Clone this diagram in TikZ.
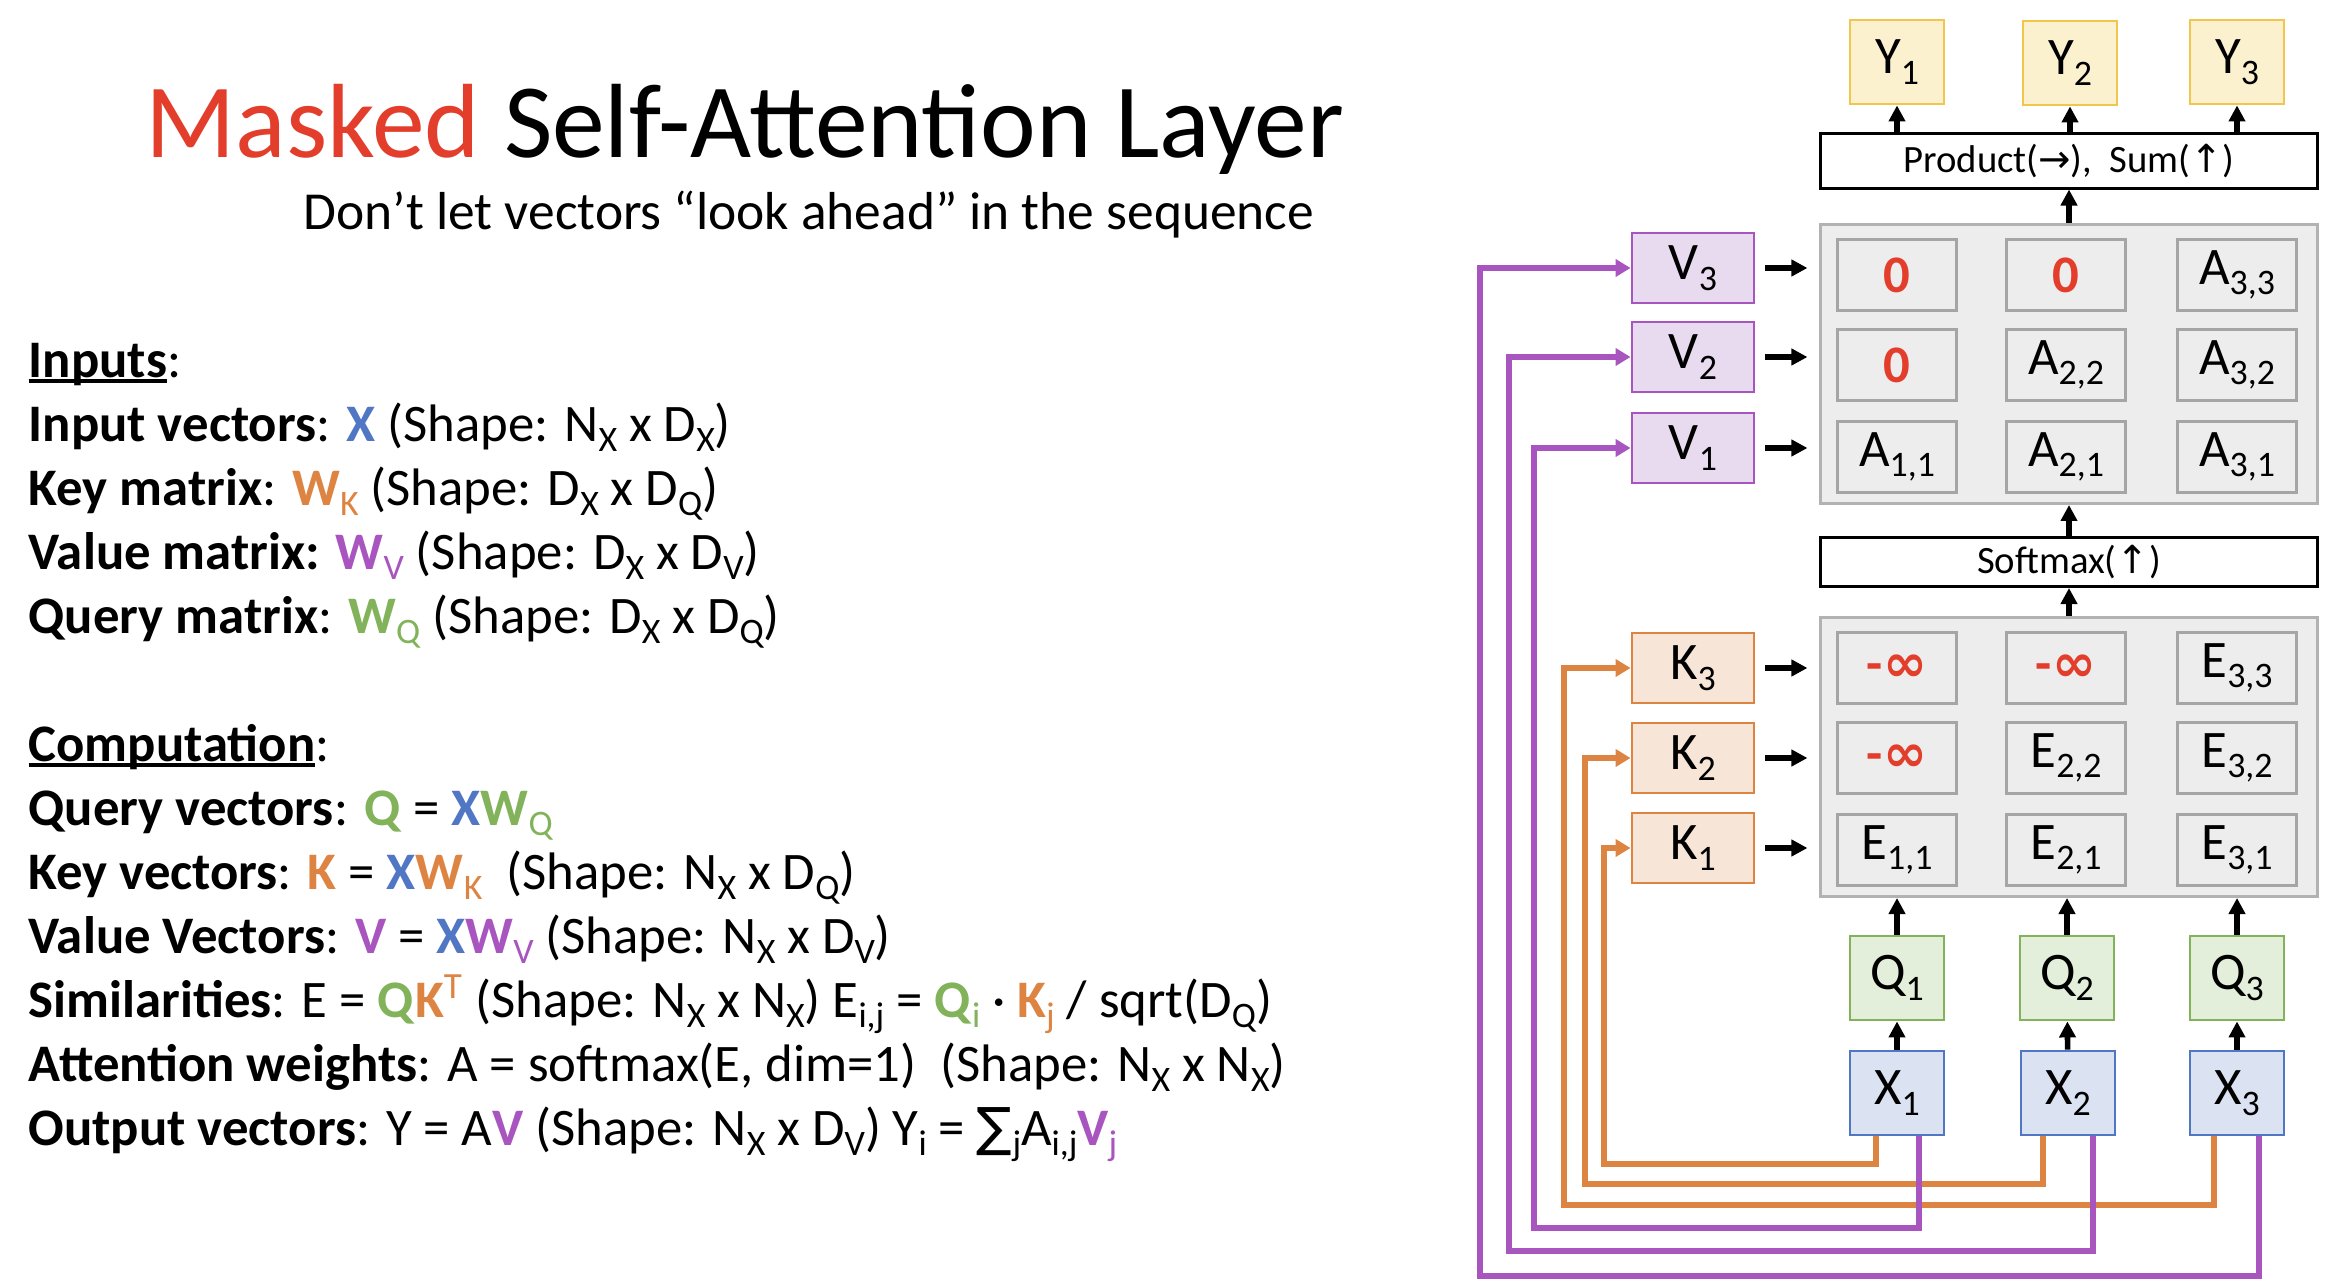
\documentclass[tikz,border=0pt]{standalone}
\usepackage{fontspec}
\setmainfont{Carlito}
\newfontfamily\symfont{DejaVu Sans}
\usetikzlibrary{arrows.meta, positioning, calc}
\definecolor{titlered}{RGB}{227,61,43}
\definecolor{xblue}{RGB}{80,118,196}
\definecolor{xfill}{RGB}{219,227,242}
\definecolor{qgreen}{RGB}{130,178,90}
\definecolor{qfill}{RGB}{227,239,218}
\definecolor{korange}{RGB}{222,132,66}
\definecolor{kfill}{RGB}{247,230,216}
\definecolor{vpurple}{RGB}{168,85,192}
\definecolor{vfill}{RGB}{232,219,240}
\definecolor{ygold}{RGB}{242,197,76}
\definecolor{yfill}{RGB}{251,241,207}
\definecolor{matgray}{RGB}{178,178,178}
\definecolor{matfill}{RGB}{237,237,237}
\definecolor{cellgray}{RGB}{165,165,165}
\newcommand{\sbx}[1]{\raisebox{-0.2em}{\scalebox{0.68}{#1}}}
\newcommand{\undl}[1]{\setbox0\hbox{#1}\rlap{\rule[-0.12em]{\wd0}{0.08em}}\box0}
\newcommand{\ninf}{\textbf{-}{\symfont\bfseries ∞}}
\newcommand{\bodyfont}{\fontsize{15}{18}\selectfont}
\newcommand{\boxfont}{\fontsize{15}{18}\selectfont}

\begin{document}
\begin{tikzpicture}[
    x=0.01cm, y=-0.01cm,
    txt/.style={anchor=base west, inner sep=0pt, font=\bodyfont},
    vec/.style={draw, line width=0.8pt, inner sep=0pt, minimum width=0.94cm, minimum height=0.84cm, font=\boxfont},
    ybox/.style={vec, draw=ygold, fill=yfill},
    qbox/.style={vec, draw=qgreen, fill=qfill},
    xbox/.style={vec, draw=xblue, fill=xfill},
    side/.style={vec, minimum width=1.22cm, minimum height=0.70cm},
    kbox/.style={side, draw=korange, fill=kfill},
    vbox/.style={side, draw=vpurple, fill=vfill},
    mat/.style={draw=matgray, fill=matfill, line width=0.8pt, minimum width=4.96cm, minimum height=2.79cm},
    cell/.style={draw=cellgray, fill=matfill, line width=0.85pt, inner sep=0pt, minimum width=1.19cm, minimum height=0.70cm, font=\boxfont},
    mask/.style={cell, text=titlered, font=\boxfont\bfseries},
    opbox/.style={draw, line width=0.85pt, inner sep=0pt, minimum width=4.96cm, font=\fontsize{11}{13}\selectfont},
    arrow/.style={-{Triangle[length=0.16cm, width=0.16cm]}, line width=1.6pt},
    kline/.style={-{Triangle[length=0.15cm, width=0.17cm]}, line width=1.6pt, korange},
    vline/.style={-{Triangle[length=0.15cm, width=0.17cm]}, line width=1.6pt, vpurple}
]
    \useasboundingbox (0,0) rectangle (2342,1288);

    % title and text
    \node[anchor=base west, inner sep=0pt, font=\fontsize{30}{36}\selectfont] (title) at (145,158) {{\color{titlered}Masked} Self-Attention Layer};
    \node[anchor=base west, inner sep=0pt, font=\fontsize{15.2}{18}\selectfont] (subtitle) at (303,230) {Don’t let vectors “look ahead” in the sequence};

    \node[txt] (inputs) at (28,377) {\undl{\textbf{Inputs}}:};
    \node[txt] (l1) at (28,441) {\textbf{Input vectors}: {\color{xblue}\textbf{X}} (Shape: N\sbx{X} x D\sbx{X})};
    \node[txt] (l2) at (28,505) {\textbf{Key matrix}: {\color{korange}\textbf{W}\sbx{K}} (Shape: D\sbx{X} x D\sbx{Q})};
    \node[txt] (l3) at (28,569) {\textbf{Value matrix:} {\color{vpurple}\textbf{W}\sbx{V}} (Shape: D\sbx{X} x D\sbx{V})};
    \node[txt] (l4) at (28,633) {\textbf{Query matrix}: {\color{qgreen}\textbf{W}\sbx{Q}} (Shape: D\sbx{X} x D\sbx{Q})};

    \node[txt] (comp) at (28,761) {\undl{\textbf{Computation}}:};
    \node[txt] (c1) at (28,825) {\textbf{Query vectors}: {\color{qgreen}\textbf{Q}} = {\color{xblue}\textbf{X}}{\color{qgreen}\textbf{W}\sbx{Q}}};
    \node[txt] (c2) at (28,889) {\textbf{Key vectors}: {\color{korange}\textbf{K}} = {\color{xblue}\textbf{X}}{\color{korange}\textbf{W}\sbx{K}}\ \ (Shape: N\sbx{X} x D\sbx{Q})};
    \node[txt] (c3) at (28,953) {\textbf{Value Vectors}: {\color{vpurple}\textbf{V}} = {\color{xblue}\textbf{X}}{\color{vpurple}\textbf{W}\sbx{V}} (Shape: N\sbx{X} x D\sbx{V})};
    \node[txt] (c4) at (28,1017) {\textbf{Similarities}: E = {\color{qgreen}\textbf{Q}}{\color{korange}\textbf{K}\textsuperscript{T}} (Shape: N\sbx{X} x N\sbx{X}) E\sbx{i,j} = {\color{qgreen}\textbf{Q}\sbx{i}} · {\color{korange}\textbf{K}\sbx{j}} / sqrt(D\sbx{Q})};
    \node[txt] (c5) at (28,1081) {\textbf{Attention weights}: A = softmax(E, dim=1)\ \ (Shape: N\sbx{X} x N\sbx{X})};
    \node[txt] (c6) at (28,1145) {\textbf{Output vectors}: Y = A{\color{vpurple}\textbf{V}} (Shape: N\sbx{X} x D\sbx{V}) Y\sbx{i} = {\symfont ∑}\sbx{j}A\sbx{i,j}{\color{vpurple}\textbf{V}\sbx{j}}};

    % outputs
    \node[ybox] (y1) at (1897,62) {Y\sbx{1}};
    \node[ybox] (y2) at (2070,63) {Y\sbx{2}};
    \node[ybox] (y3) at (2237,62) {Y\sbx{3}};
    \node[opbox, minimum height=0.54cm] (prod) at (2069,161) {Product({\symfont →}),\ \ Sum({\symfont ↑})};

    % attention weights
    \node[mat] (amat) at (2069,364) {};
    \node[mask] (a13) at (1897,275) {0};
    \node[mask] (a23) at (2066,275) {0};
    \node[cell] (a33) at (2237,275) {A\sbx{3,3}};
    \node[mask] (a12) at (1897,365) {0};
    \node[cell] (a22) at (2066,365) {A\sbx{2,2}};
    \node[cell] (a32) at (2237,365) {A\sbx{3,2}};
    \node[cell] (a11) at (1897,457) {A\sbx{1,1}};
    \node[cell] (a21) at (2066,457) {A\sbx{2,1}};
    \node[cell] (a31) at (2237,457) {A\sbx{3,1}};

    \node[vbox] (v3) at (1693,268) {V\sbx{3}};
    \node[vbox] (v2) at (1693,357) {V\sbx{2}};
    \node[vbox] (v1) at (1693,448) {V\sbx{1}};

    \node[opbox, minimum height=0.49cm] (soft) at (2069,562) {Softmax({\symfont ↑})};

    % similarities
    \node[mat] (emat) at (2069,757) {};
    \node[mask] (e13) at (1897,668) {\ninf};
    \node[mask] (e23) at (2066,668) {\ninf};
    \node[cell] (e33) at (2237,668) {E\sbx{3,3}};
    \node[mask] (e12) at (1897,758) {\ninf};
    \node[cell] (e22) at (2066,758) {E\sbx{2,2}};
    \node[cell] (e32) at (2237,758) {E\sbx{3,2}};
    \node[cell] (e11) at (1897,850) {E\sbx{1,1}};
    \node[cell] (e21) at (2066,850) {E\sbx{2,1}};
    \node[cell] (e31) at (2237,850) {E\sbx{3,1}};

    \node[kbox] (k3) at (1693,668) {K\sbx{3}};
    \node[kbox] (k2) at (1693,758) {K\sbx{2}};
    \node[kbox] (k1) at (1693,848) {K\sbx{1}};

    % queries and inputs
    \node[qbox] (q1) at (1897,978) {Q\sbx{1}};
    \node[qbox] (q2) at (2067,978) {Q\sbx{2}};
    \node[qbox] (q3) at (2237,978) {Q\sbx{3}};
    \node[xbox] (x1) at (1897,1093) {X\sbx{1}};
    \node[xbox] (x2) at (2068,1093) {X\sbx{2}};
    \node[xbox] (x3) at (2237,1093) {X\sbx{3}};

    % black arrows
    \draw[arrow] (prod.north -| y1) -- (y1);
    \draw[arrow] (prod.north -| y2) -- (y2);
    \draw[arrow] (prod.north -| y3) -- (y3);
    \draw[arrow] (amat) -- (prod);
    \draw[arrow, shorten <=0.10cm, shorten >=0.12cm] (v3) -- (v3 -| amat.west);
    \draw[arrow, shorten <=0.10cm, shorten >=0.12cm] (v2) -- (v2 -| amat.west);
    \draw[arrow, shorten <=0.10cm, shorten >=0.12cm] (v1) -- (v1 -| amat.west);
    \draw[arrow] (soft) -- (amat);
    \draw[arrow] (emat) -- (soft);
    \draw[arrow, shorten <=0.10cm, shorten >=0.12cm] (k3) -- (k3 -| emat.west);
    \draw[arrow, shorten <=0.10cm, shorten >=0.12cm] (k2) -- (k2 -| emat.west);
    \draw[arrow, shorten <=0.10cm, shorten >=0.12cm] (k1) -- (k1 -| emat.west);
    \draw[arrow] (q1) -- (q1 |- emat.south);
    \draw[arrow] (q2) -- (q2 |- emat.south);
    \draw[arrow] (q3) -- (q3 |- emat.south);
    \draw[arrow] (x1) -- (q1);
    \draw[arrow] (x2) -- (q2);
    \draw[arrow] (x3) -- (q3);

    % inputs to keys and values
    \draw[kline] ([xshift=-0.21cm]x1.south) |- (1604,1164) |- (k1.west);
    \draw[kline] ([xshift=-0.25cm]x2.south) |- (1585,1184) |- (k2.west);
    \draw[kline] ([xshift=-0.23cm]x3.south) |- (1564,1205) |- (k3.west);
    \draw[vline] ([xshift=0.22cm]x1.south) |- (1534,1228) |- (v1.west);
    \draw[vline] ([xshift=0.25cm]x2.south) |- (1509,1251) |- (v2.west);
    \draw[vline] ([xshift=0.22cm]x3.south) |- (1480,1276) |- (v3.west);
\end{tikzpicture}
\end{document}
